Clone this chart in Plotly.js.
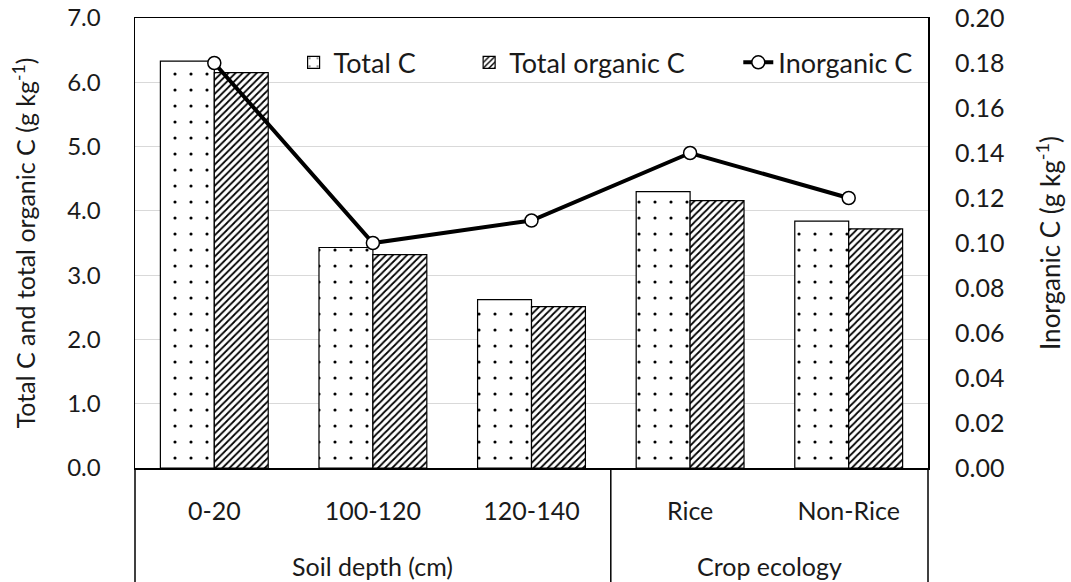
<!DOCTYPE html>
<html>
<head>
<meta charset="utf-8">
<script src="https://cdn.plot.ly/plotly-3.0.1.min.js"></script>
<style>html,body{margin:0;padding:0;background:#fff;}#chart{width:1071px;height:582px;}</style>
</head>
<body>
<div id="chart"></div>
<script>
const groups = ["Soil depth (cm)", "Soil depth (cm)", "Soil depth (cm)", "Crop ecology", "Crop ecology"];
const categories = ["0-20", "100-120", "120-140", "Rice", "Non-Rice"];
const totalC = [6.33, 3.43, 2.62, 4.30, 3.84];
const totalOrganicC = [6.15, 3.32, 2.51, 4.16, 3.72];
const inorganicC = [0.18, 0.10, 0.11, 0.14, 0.12];
const leftTicks = [0, 1, 2, 3, 4, 5, 6, 7];
const rightTicks = [0, 0.02, 0.04, 0.06, 0.08, 0.10, 0.12, 0.14, 0.16, 0.18, 0.20];
const seriesNames = ["Total C", "Total organic C", "Inorganic C"];

const FONT = "Lato, 'Open Sans', sans-serif";
const TXT = "#1a1a1a";
const pad = "&nbsp;&nbsp;&nbsp;&nbsp;&nbsp;&nbsp;&nbsp;";

const traces = [
  {
    type: "bar", name: seriesNames[0] + pad, x: categories, y: totalC,
    marker: {color: "#ffffff", line: {color: "#000000", width: 1.2},
      pattern: {shape: ".", fgcolor: "#000000", bgcolor: "#ffffff", size: 16, solidity: 0.03, fillmode: "replace"}}
  },
  {
    type: "bar", name: seriesNames[1] + pad, x: categories, y: totalOrganicC,
    marker: {color: "#ffffff", line: {color: "#000000", width: 1.2},
      pattern: {shape: "/", fgcolor: "#000000", bgcolor: "#ffffff", size: 5, solidity: 0.35, fillmode: "replace"}}
  },
  {
    type: "scatter", mode: "lines+markers", name: seriesNames[2], x: categories, y: inorganicC, yaxis: "y2",
    line: {color: "#000000", width: 4},
    marker: {symbol: "circle", size: 13, color: "#ffffff", line: {color: "#000000", width: 1.5}}
  }
];

// group labels and divider lines below the axis, computed from the group array
const n = categories.length;
const annotations = [];
const shapes = [];
const bottomY = -114 / 450;
let start = 0;
for (let i = 1; i <= n; i++) {
  if (i === n || groups[i] !== groups[start]) {
    annotations.push({
      xref: "paper", yref: "paper", x: (start + i) / 2 / n, y: (468 - 566) / 450,
      xanchor: "center", yanchor: "middle", showarrow: false, text: groups[start],
      font: {family: FONT, size: 25, color: TXT}
    });
    start = i;
  }
}
const boundaries = [0];
for (let i = 1; i < n; i++) if (groups[i] !== groups[i - 1]) boundaries.push(i);
boundaries.push(n);
boundaries.forEach(b => shapes.push({
  type: "line", xref: "paper", yref: "paper", x0: b / n, x1: b / n, y0: 0, y1: bottomY,
  line: {color: "#000", width: 1.5}
}));

const layout = {
  width: 1071, height: 582,
  margin: {l: 135, r: 143, t: 18, b: 114},
  paper_bgcolor: "#ffffff", plot_bgcolor: "#ffffff",
  font: {family: FONT, size: 25, color: TXT},
  barmode: "group", bargap: 0.32, bargroupgap: 0,
  showlegend: true,
  legend: {orientation: "h", x: 0.2, y: 0.955, xanchor: "left", yanchor: "top",
    bgcolor: "rgba(255,255,255,0)", font: {family: FONT, size: 27, color: TXT}, traceorder: "normal"},
  xaxis: {
    type: "category", showline: true, mirror: true, linecolor: "#000", linewidth: 1.5,
    ticks: "", showgrid: false, ticklabelstandoff: 20,
    tickfont: {family: FONT, size: 25, color: TXT}
  },
  yaxis: {
    range: [0, 7], tickvals: leftTicks, tickformat: ".1f",
    showline: true, mirror: true, linecolor: "#000", linewidth: 1.5,
    gridcolor: "#d9d9d9", gridwidth: 1, zeroline: false, ticks: "",
    tickfont: {family: FONT, size: 24, color: TXT}, ticklabelstandoff: 28,
    title: {text: "Total C and total organic C (g kg<sup>-1</sup>)", font: {family: FONT, size: 25, color: TXT}, standoff: 24}
  },
  yaxis2: {
    overlaying: "y", side: "right", range: [0, 0.2], tickvals: rightTicks, tickformat: ".2f",
    showgrid: false, zeroline: false, showline: false, ticks: "",
    tickfont: {family: FONT, size: 25, color: TXT}, ticklabelstandoff: 26,
    title: {text: "Inorganic C (g kg<sup>-1</sup>)", font: {family: FONT, size: 26, color: TXT}, standoff: 38}
  },
  annotations: annotations,
  shapes: shapes
};

Plotly.newPlot("chart", traces, layout, {displayModeBar: false, staticPlot: true});
</script>
</body>
</html>
